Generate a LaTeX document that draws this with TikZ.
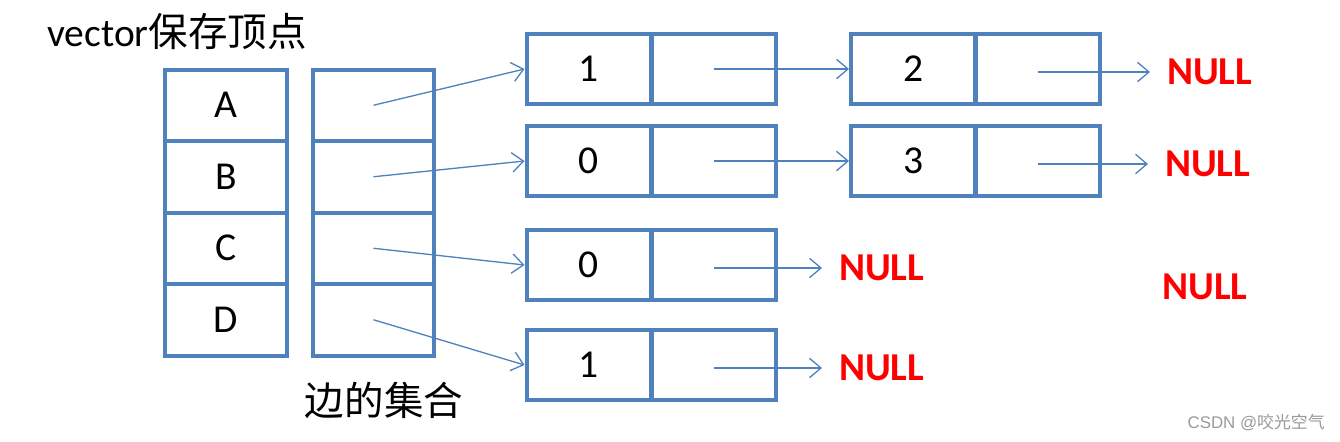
\documentclass[tikz,border=0pt]{standalone}
\usepackage{fontspec}
\setmainfont{Carlito}
\newfontfamily\cjk{Noto Sans CJK SC}
\newfontfamily\markfont{Liberation Sans}
\usetikzlibrary{arrows.meta}
\definecolor{cellblue}{HTML}{4F81BD}
\definecolor{nullred}{HTML}{FF0000}
\definecolor{markgray}{HTML}{999999}
\newcommand\cellfont{\fontsize{22.5}{27}\selectfont}

\tikzset{
  vcell/.style={draw=cellblue, line width=0.08cm, minimum width=2.44cm, minimum height=1.43cm, inner sep=0pt, font=\cellfont},
  lcell/.style={draw=cellblue, line width=0.08cm, minimum width=2.5cm, minimum height=1.4cm, inner sep=0pt, font=\cellfont},
  link/.style={draw=cellblue, line width=0.75pt, -{Straight Barb[length=6.5pt,width=11pt]}},
  nullnode/.style={text=nullred, font=\cellfont\bfseries, inner xsep=9.5pt, inner ysep=0pt, anchor=west}
}

\begin{document}
\begin{tikzpicture}[x=0.02cm, y=-0.02cm]
        \useasboundingbox (0,0) rectangle (1340,441);

        % Подписи
        \node[font=\cellfont, inner sep=0pt, anchor=base west] (title) at (47,46) {vector{\cjk 保存顶点}};
        \node[font=\cellfont, inner sep=0pt] (edgeset) at (384,400) {\cjk 边的集合};

        % Вершины и ячейки рёбер
        \foreach \v [count=\i] in {A,B,C,D} {
            \node[vcell] (v\i) at (226,{69.5+71.5*(\i-0.5)}) {\v};
            \node[vcell] (e\i) at (373.5,{69.5+71.5*(\i-0.5)}) {};
        }

        % Первый столбец списков
        \foreach \i/\y/\d in {1/69/1, 2/161/0, 3/265/0, 4/365/1} {
            \node[lcell] (d\i) at (589,\y) {\d};
            \node[lcell] (n\i) at (714,\y) {};
        }

        % Второй столбец списков
        \foreach \i/\y/\d in {1/69/2, 2/161/3} {
            \node[lcell] (dd\i) at (913.5,\y) {\d};
            \node[lcell] (nn\i) at (1037.5,\y) {};
        }

        % NULL
        \node[nullnode] (null1) at (1150,72) {NULL};
        \node[nullnode] (null2) at (1148,164) {NULL};
        \node[nullnode] (null3) at (822,268) {NULL};
        \node[nullnode] (null4) at (822,368) {NULL};
        \node[text=nullred, font=\cellfont\bfseries, inner sep=0pt] (null5) at (1205,287) {NULL};

        % Стрелки
        \foreach \i in {1,...,4} \draw[link] (e\i.center) -- (d\i.west);
        \foreach \i in {1,2} \draw[link] (n\i.center) -- (dd\i.west);
        \foreach \i in {1,2} \draw[link] (nn\i.center |- null\i.west) -- (null\i.west);
        \foreach \i in {3,4} \draw[link] (n\i.center |- null\i.west) -- (null\i.west);

        % Водяной знак
        \node[text=markgray, font=\markfont\fontsize{9.6}{11}\selectfont, inner sep=0pt, anchor=east] (mark) at (1325,423) {CSDN @{\cjk 咬光空气}};
    \end{tikzpicture}
\end{document}
